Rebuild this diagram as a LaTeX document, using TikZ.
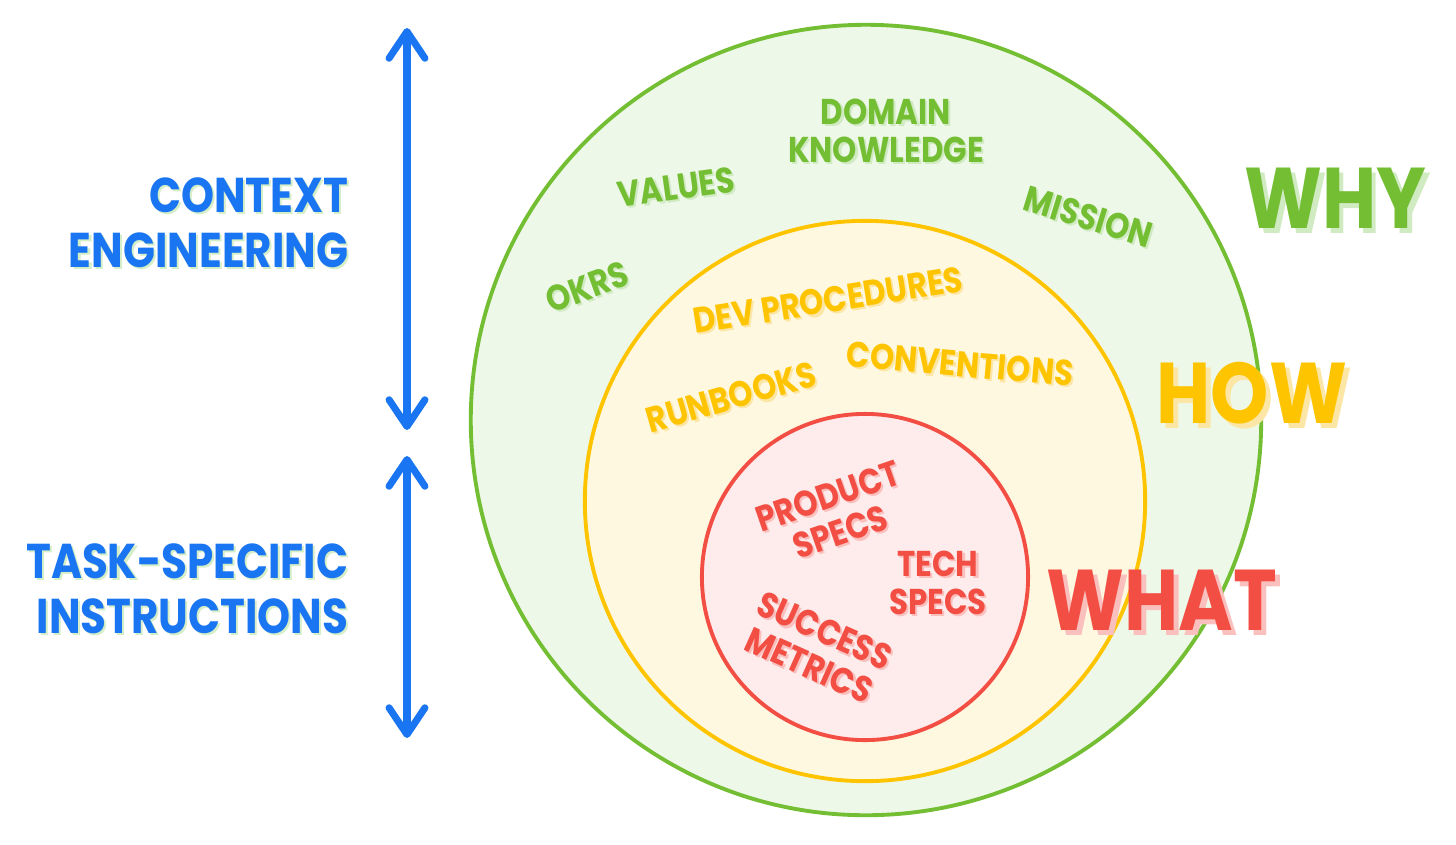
\documentclass[tikz,border=0pt]{standalone}
\usepackage{fontspec}
\setmainfont{Poppins}[FakeStretch=0.86]
\usetikzlibrary{arrows.meta}
\definecolor{ceblue}{RGB}{26,117,242}
\definecolor{whygreen}{RGB}{116,190,52}
\definecolor{whyfill}{RGB}{238,248,232}
\definecolor{howyellow}{RGB}{255,196,0}
\definecolor{howfill}{RGB}{255,248,225}
\definecolor{whatred}{RGB}{242,78,68}
\definecolor{whatfill}{RGB}{254,235,235}
\definecolor{blueshade}{RGB}{212,238,200}
\definecolor{greenshade}{RGB}{208,234,194}
\definecolor{yellowshade}{RGB}{252,230,165}
\definecolor{redshade}{RGB}{250,192,190}
\tikzset{
    ring/.style={
        circle,
        line width=1.1pt,
        inner sep=0pt
    },
    sidelabel/.style={
        font=\bfseries\fontsize{13.9}{15.6}\selectfont,
        text=ceblue,
        align=right,
        anchor=east,
        inner sep=0pt
    },
    ringlabel/.style={
        font=\bfseries\fontsize{10.2}{10.8}\selectfont,
        align=center,
        inner sep=0pt
    },
    biglabel/.style={
        font=\bfseries\fontsize{24.5}{24.5}\selectfont,
        inner sep=0pt
    },
    smalldrop/.style={xshift=0.6pt, yshift=-0.6pt},
    bigdrop/.style={xshift=1.4pt, yshift=-1.4pt},
    bothways/.style={
        line width=2pt,
        draw=ceblue,
        {Straight Barb[round,length=7.6pt,width=10.2pt]}-{Straight Barb[round,length=7.6pt,width=10.2pt]}
    }
}
% name, position, angle, style, shadow, text
\newcommand{\droplabel}[6]{%
  \node[#4, #5, rotate=#3] at (#2) {#6};
  \node[#4, rotate=#3] (#1) at (#2) {#6};
}

\begin{document}
\begin{tikzpicture}[x=0.01cm, y=-0.01cm]

\useasboundingbox (0,0) rectangle (1456,844);

% Rings
\node[ring, draw=whygreen, fill=whyfill, minimum size=7.9cm] (why) at (866,420) {};
\node[ring, draw=howyellow, fill=howfill, minimum size=5.6cm] (how) at (865,501) {};
\node[ring, draw=whatred, fill=whatfill, minimum size=3.26cm] (what) at (865,577) {};

% Left side
\coordinate (ctxtop) at (407,28);
\coordinate (ctxbot) at (407,430);
\coordinate (tasktop) at (407,456);
\coordinate (taskbot) at (407,738);
\draw[bothways] (ctxtop) -- (ctxbot);
\draw[bothways] (tasktop) -- (taskbot);

\droplabel{context}{349,223}{0}{sidelabel}{smalldrop, text=blueshade}{CONTEXT\\ENGINEERING}
\droplabel{task}{349,589}{0}{sidelabel}{smalldrop, text=blueshade}{TASK-SPECIFIC\\INSTRUCTIONS}

% ------------------------------------------------------------
% Why
% ------------------------------------------------------------
\droplabel{okrs}{587,287}{20}{ringlabel, text=whygreen}{smalldrop, text=greenshade}{OKRS}
\droplabel{values}{676,187}{8}{ringlabel, text=whygreen}{smalldrop, text=greenshade}{VALUES}
\droplabel{domain}{886,131}{0}{ringlabel, text=whygreen}{smalldrop, text=greenshade}{DOMAIN\\KNOWLEDGE}
\droplabel{mission}{1088,217}{-17}{ringlabel, text=whygreen}{smalldrop, text=greenshade}{MISSION}

% ------------------------------------------------------------
% How
% ------------------------------------------------------------
\droplabel{devproc}{828,300}{9}{ringlabel, text=howyellow}{smalldrop, text=yellowshade}{DEV PROCEDURES}
\droplabel{conventions}{960,364}{-5}{ringlabel, text=howyellow}{smalldrop, text=yellowshade}{CONVENTIONS}
\droplabel{runbooks}{731,397}{16}{ringlabel, text=howyellow}{smalldrop, text=yellowshade}{RUNBOOKS}

% ------------------------------------------------------------
% What
% ------------------------------------------------------------
\droplabel{product}{834,514}{19}{ringlabel, text=whatred}{smalldrop, text=redshade}{PRODUCT\\SPECS}
\droplabel{tech}{938,583}{0}{ringlabel, text=whatred}{smalldrop, text=redshade}{TECH\\SPECS}
\droplabel{success}{817,648}{-24}{ringlabel, text=whatred}{smalldrop, text=redshade}{SUCCESS\\METRICS}

% Ring titles
\droplabel{whytitle}{1335,198}{0}{biglabel, text=whygreen}{bigdrop, text=greenshade}{WHY}
\droplabel{howtitle}{1252,393}{0}{biglabel, text=howyellow}{bigdrop, text=yellowshade}{HOW}
\droplabel{whattitle}{1162,600}{0}{biglabel, text=whatred}{bigdrop, text=redshade}{WHAT}

\end{tikzpicture}
\end{document}
